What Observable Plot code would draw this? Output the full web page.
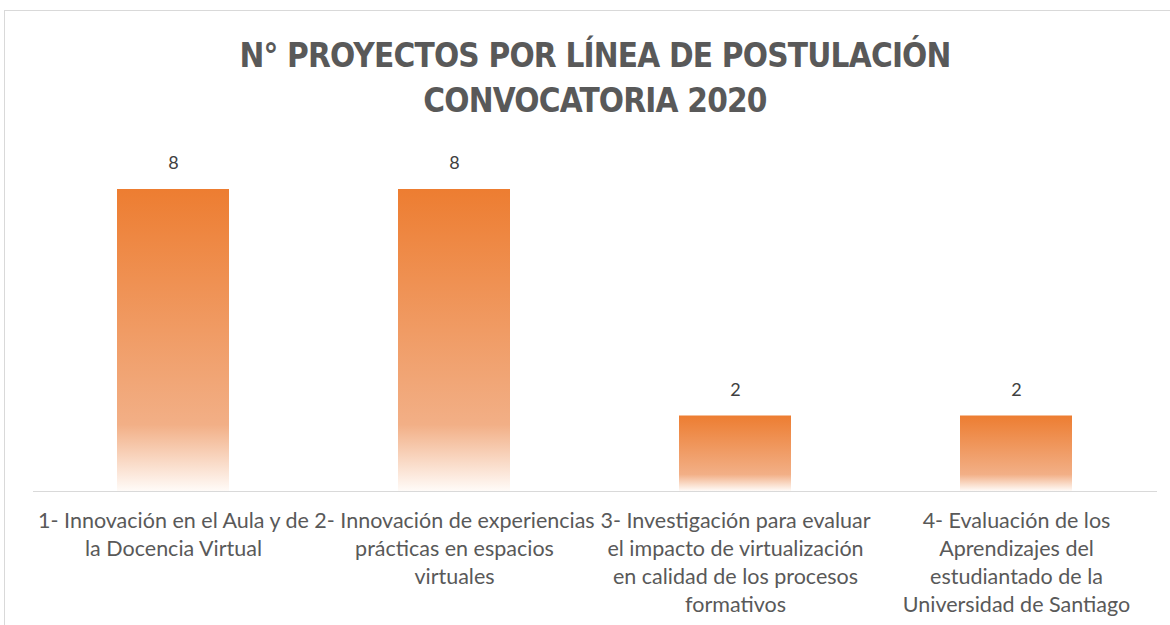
<!DOCTYPE html>
<html>
<head>
<meta charset="utf-8">
<script src="https://cdn.jsdelivr.net/npm/d3@7"></script>
<script src="https://cdn.jsdelivr.net/npm/@observablehq/plot@0.6"></script>
<style>
  body { margin: 0; background: #fff; width: 1170px; height: 625px; overflow: hidden; position: relative; }
  #frame { position: absolute; left: 4px; top: 10px; width: 1200px; height: 700px; border: 1px solid #d9d9d9; box-sizing: border-box; }
  #title { position: absolute; left: 0; top: 33px; width: 1190px; text-align: center; color: #595959;
           font-family: "Liberation Sans Narrow", "DejaVu Sans Condensed", sans-serif; font-stretch: condensed;
           font-weight: bold; font-size: 33px; line-height: 45px; letter-spacing: -0.8px; }
  #chart { position: absolute; left: 0; top: 130px; }
</style>
</head>
<body>
<div id="frame"></div>
<div id="title">N° PROYECTOS POR LÍNEA DE POSTULACIÓN<br>CONVOCATORIA 2020</div>
<div id="chart"></div>
<script>
const categories = [
  "1- Innovación en el Aula y de la Docencia Virtual",
  "2- Innovación de experiencias prácticas en espacios virtuales",
  "3- Investigación para evaluar el impacto de virtualización en calidad de los procesos formativos",
  "4- Evaluación de los Aprendizajes del estudiantado de la Universidad de Santiago"
];
const values = [8, 8, 2, 2];
const tickLabels = [
  "1- Innovación en el Aula y de\nla Docencia Virtual",
  "2- Innovación de experiencias\nprácticas en espacios\nvirtuales",
  "3- Investigación para evaluar\nel impacto de virtualización\nen calidad de los procesos\nformativos",
  "4- Evaluación de los\nAprendizajes del\nestudiantado de la\nUniversidad de Santiago"
];

const rows = categories.map((c, i) => ({cat: c, value: values[i], label: tickLabels[i]}));

const defs = () => {
  const ns = "http://www.w3.org/2000/svg";
  const d = document.createElementNS(ns, "defs");
  const g = document.createElementNS(ns, "linearGradient");
  g.setAttribute("id", "barGrad");
  g.setAttribute("x1", "0"); g.setAttribute("y1", "0");
  g.setAttribute("x2", "0"); g.setAttribute("y2", "1");
  [["0", "#ED7D31"], ["0.78", "#F2AF86"], ["1", "#FFFBF8"]].forEach(([o, c]) => {
    const s = document.createElementNS(ns, "stop");
    s.setAttribute("offset", o); s.setAttribute("stop-color", c);
    g.appendChild(s);
  });
  d.appendChild(g);
  return d;
};

const chart = Plot.plot({
  width: 1170,
  height: 495,
  marginLeft: 33,
  marginRight: 13,
  marginTop: 59,
  marginBottom: 134,
  style: {fontFamily: "Lato, sans-serif", background: "transparent"},
  x: {domain: categories, paddingInner: 0.6, paddingOuter: 0.3, axis: null},
  y: {domain: [0, 8], axis: null},
  marks: [
    defs,
    Plot.barY(rows, {x: "cat", y: "value", fill: "url(#barGrad)"}),
    Plot.ruleY([0], {stroke: "#d9d9d9", strokeWidth: 1}),
    Plot.text(rows, {x: "cat", y: "value", text: d => String(d.value), dy: -26, fill: "#404040", fontSize: 18}),
    Plot.text(rows, {x: "cat", y: 0, text: "label", lineAnchor: "top", dy: 17, fontSize: 21.5, lineHeight: 28 / 21.5, fill: "#595959"})
  ]
});
document.getElementById("chart").appendChild(chart);
</script>
</body>
</html>
